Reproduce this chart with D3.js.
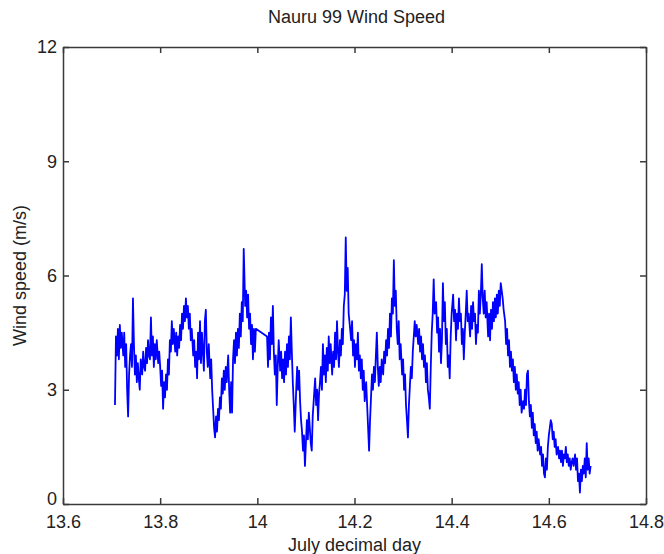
<!DOCTYPE html>
<html><head><meta charset="utf-8">
<script src="https://cdn.jsdelivr.net/npm/d3@7"></script>
<style>body{margin:0;background:#fff}svg{display:block}text{font-family:"Liberation Sans",Arial,sans-serif;fill:#222}</style>
</head><body><svg id="c" width="664" height="554"></svg>
<script>
const title = "Nauru 99 Wind Speed";
const xLabel = "July decimal day";
const yLabel = "Wind speed (m/s)";
const xTicks = [13.6, 13.8, 14, 14.2, 14.4, 14.6, 14.8];
const yTicks = [0, 3, 6, 9, 12];
const days = [
13.707,13.709,13.711,13.713,13.715,13.717,13.719,13.721,13.724,13.726,
13.728,13.730,13.732,13.734,13.736,13.738,13.740,13.742,13.744,13.746,
13.748,13.750,13.752,13.754,13.756,13.758,13.760,13.763,13.765,13.767,
13.769,13.771,13.773,13.775,13.777,13.779,13.781,13.783,13.785,13.787,
13.789,13.791,13.793,13.796,13.798,13.800,13.802,13.804,13.806,13.808,
13.810,13.812,13.814,13.816,13.818,13.820,13.822,13.824,13.826,13.828,
13.831,13.833,13.835,13.837,13.839,13.841,13.843,13.845,13.847,13.849,
13.851,13.853,13.855,13.857,13.859,13.861,13.863,13.865,13.868,13.870,
13.872,13.874,13.876,13.878,13.880,13.882,13.884,13.886,13.888,13.890,
13.892,13.894,13.896,13.898,13.900,13.903,13.905,13.907,13.909,13.911,
13.913,13.915,13.917,13.919,13.921,13.923,13.925,13.927,13.929,13.931,
13.933,13.935,13.937,13.940,13.942,13.944,13.946,13.948,13.950,13.952,
13.954,13.956,13.958,13.960,13.962,13.964,13.966,13.968,13.970,13.972,
13.975,13.977,13.979,13.981,13.983,13.985,13.987,13.989,13.991,13.993,
13.995,13.997,
14.020,14.022,14.024,14.026,14.028,14.030,14.032,14.034,
14.036,14.038,14.040,14.042,14.044,14.047,14.049,14.051,14.053,14.055,
14.057,14.059,14.061,14.063,14.065,14.067,14.069,14.071,14.073,14.075,
14.077,14.080,14.082,14.084,14.086,14.088,14.090,14.092,14.094,14.096,
14.098,14.100,14.102,14.104,14.106,14.108,14.110,14.112,14.114,14.116,
14.119,14.121,14.123,14.125,14.127,14.129,14.131,14.133,14.135,14.137,
14.139,14.141,14.143,14.145,14.147,14.149,14.151,14.154,14.156,14.158,
14.160,14.162,14.164,14.166,14.168,14.170,14.172,14.174,14.176,14.178,
14.180,14.182,14.184,14.186,14.188,14.191,14.193,14.195,14.197,14.199,
14.201,14.203,14.205,14.207,14.209,14.211,14.213,14.215,14.217,14.219,
14.221,14.224,14.226,14.228,14.230,14.232,14.234,14.236,14.238,14.240,
14.242,14.244,14.246,14.248,14.250,14.252,14.254,14.256,14.259,14.261,
14.263,14.265,14.267,14.269,14.271,14.273,14.275,14.277,14.279,14.281,
14.283,14.285,14.287,14.289,14.291,14.293,14.295,14.298,14.300,14.302,
14.304,14.306,14.308,14.310,14.312,14.314,14.316,14.318,14.320,14.322,
14.324,14.326,14.328,14.331,14.333,14.335,14.337,14.339,14.341,14.343,
14.345,14.347,14.349,14.351,14.353,14.355,14.357,14.359,14.361,14.363,
14.365,14.368,14.370,14.372,14.374,14.376,14.378,14.380,14.382,14.384,
14.386,14.388,14.390,14.392,14.394,14.396,14.398,14.400,14.403,14.405,
14.407,14.409,14.411,14.413,14.415,14.417,14.419,14.421,14.423,14.425,
14.427,14.429,14.431,14.433,14.435,14.438,14.440,14.442,14.444,14.446,
14.448,14.450,14.452,14.454,14.456,14.458,14.460,14.462,14.464,14.466,
14.468,14.470,14.472,14.475,14.477,14.479,14.481,14.483,14.485,14.487,
14.489,14.491,14.493,14.495,14.497,14.499,14.501,14.503,14.505,14.507,
14.510,14.512,14.514,14.516,14.518,14.520,14.522,14.524,14.526,14.528,
14.530,14.532,14.534,14.536,14.538,14.540,14.542,14.544,14.547,14.549,
14.551,14.553,14.555,14.557,14.559,14.561,14.563,14.565,14.567,14.569,
14.571,14.573,14.575,14.577,14.579,14.582,14.584,14.586,14.588,14.590,
14.592,14.594,14.596,14.598,14.600,14.602,14.604,14.606,14.608,14.610,
14.612,14.614,14.616,14.619,14.621,14.623,14.625,14.627,14.629,14.631,
14.633,14.635,14.637,14.639,14.641,14.643,14.645,14.647,14.649,14.651,
14.654,14.656,14.658,14.660,14.662,14.664,14.666,14.668,14.670,14.672,
14.674,14.676,14.678,14.680,14.682,14.684,14.686
];
const speeds = [
2.6,4.4,3.9,4.6,3.8,4.7,4.1,4.5,3.9,4.5,
3.6,4.2,3.0,2.3,3.4,3.9,4.2,3.6,5.4,4.2,
3.4,3.9,3.2,3.7,3.3,3.0,3.8,3.4,4.0,3.6,
3.5,4.1,3.7,4.3,3.9,3.8,4.9,3.9,4.4,3.6,
4.2,3.8,4.3,3.7,4.0,3.6,3.1,3.5,2.5,3.2,
2.8,3.4,3.0,3.8,3.4,4.3,4.0,4.8,4.2,4.6,
4.0,4.5,3.9,4.4,4.1,4.7,4.3,5.0,4.6,5.2,
4.8,5.4,4.9,5.2,4.6,5.0,4.3,4.6,3.9,4.3,
3.6,4.0,3.3,4.5,3.8,4.8,3.7,4.5,4.0,3.5,
4.8,5.1,4.0,3.6,4.2,3.3,3.8,3.0,2.5,2.0,
1.75,2.3,1.9,2.5,2.2,2.8,2.5,3.3,2.9,3.5,
3.0,3.6,3.2,3.9,3.0,2.4,3.2,2.4,3.8,4.3,
3.7,4.5,3.9,4.6,4.1,5.0,4.4,5.3,4.8,6.7,
5.2,5.6,4.9,5.5,4.6,5.0,4.2,4.7,3.8,4.6,
4.0,4.6,
4.4,3.6,4.5,3.8,4.9,4.2,5.2,4.0,
3.4,3.9,2.6,3.6,4.3,3.5,4.0,3.3,3.8,3.2,
4.0,3.4,4.2,3.6,4.4,3.8,4.9,4.0,3.2,2.6,
1.9,3.0,3.6,3.0,3.5,2.7,2.2,1.9,1.4,1.8,
1.0,1.6,2.2,1.7,2.4,2.0,1.6,1.4,2.3,2.7,
3.3,2.6,3.0,2.2,2.9,3.2,3.6,3.0,4.2,3.4,
3.9,3.2,4.1,3.5,4.4,3.7,4.2,3.4,4.0,3.6,
4.5,3.8,4.8,4.0,3.6,4.3,3.9,4.6,4.2,5.2,
5.5,7.0,5.6,6.2,5.0,4.6,4.3,4.8,3.9,4.3,
3.6,4.2,3.8,4.5,3.5,3.9,3.3,3.8,3.0,3.5,
2.7,3.2,2.6,2.0,1.4,2.2,2.8,3.4,3.0,3.6,
3.2,3.9,4.5,3.6,3.1,3.6,3.2,3.8,3.4,4.0,
3.7,4.3,3.9,4.6,4.1,5.0,4.4,5.4,5.0,6.4,
5.2,5.6,4.6,4.2,4.8,3.8,4.2,3.4,3.8,3.0,
3.4,2.6,2.2,1.75,2.6,3.1,3.6,3.3,4.0,4.4,
4.8,4.4,4.7,4.2,4.6,4.0,4.4,3.8,4.2,3.6,
3.9,3.2,3.7,3.0,2.8,2.5,3.6,4.5,5.0,5.9,
5.0,5.3,4.5,4.9,4.0,4.6,3.7,4.3,5.8,4.8,
5.3,4.2,4.6,3.6,3.9,3.3,4.4,5.0,5.5,4.8,
5.1,4.3,5.0,4.6,5.4,4.8,5.0,4.2,4.6,3.8,
4.5,5.0,5.6,4.8,5.0,4.4,5.2,4.6,5.3,4.8,
5.0,4.2,4.7,4.5,5.6,5.0,5.5,6.3,5.4,5.0,
5.6,4.9,5.3,4.4,5.0,4.3,5.1,4.6,5.3,4.8,
5.4,4.9,5.5,5.0,5.6,5.2,5.8,5.6,5.4,5.1,
4.8,4.2,4.6,3.9,4.3,3.6,4.0,3.5,3.8,3.2,
3.6,3.0,3.4,2.9,3.2,2.6,3.0,2.4,2.7,2.5,
3.0,2.6,3.4,3.5,2.7,2.3,2.6,2.0,2.4,1.8,
2.1,1.6,1.9,1.4,1.7,1.3,1.5,1.0,1.3,0.8,
0.7,1.2,0.9,1.5,1.8,2.0,2.2,2.1,1.7,1.9,
1.5,1.7,1.3,1.5,1.2,1.4,1.1,1.4,1.0,1.3,
1.2,1.5,1.1,1.3,1.0,1.2,0.9,1.1,1.2,1.0,
1.3,0.9,1.2,0.6,0.8,0.3,0.9,0.6,1.0,0.8,
1.2,0.7,1.6,0.9,1.2,0.8,1.0
];

const W = 664, H = 554;
const m = {left: 63, right: 18, top: 47, bottom: 50};
const svg = d3.select("#c");
const x = d3.scaleLinear().domain([13.6, 14.8]).range([m.left, W - m.right]);
const y = d3.scaleLinear().domain([0, 12]).range([H - m.bottom, m.top]);
const pts = days.map((d, i) => [d, speeds[i]]);

svg.append("path").datum(pts)
  .attr("fill", "none").attr("stroke", "#0000ff").attr("stroke-width", 1.8)
  .attr("stroke-linejoin", "round")
  .attr("d", d3.line().x(d => x(d[0])).y(d => y(d[1])));

const tk = 6, axCol = "#3a3a3a", fs = "18px";
function style(g){
  g.select(".domain").attr("stroke", axCol).attr("stroke-width", 1.5);
  g.selectAll(".tick line").attr("stroke", axCol).attr("stroke-width", 1.5);
  g.selectAll(".tick text").style("font-size", fs).attr("fill", "#2a2a2a")
    .style("font-family", "'Liberation Sans', Arial, sans-serif");
}
const fmt = d3.format("");
svg.append("g").attr("transform", `translate(0,${H - m.bottom})`)
  .call(d3.axisBottom(x).tickValues(xTicks).tickFormat(fmt).tickSizeInner(-tk).tickSizeOuter(0).tickPadding(11))
  .call(style);
svg.append("g").attr("transform", `translate(0,${m.top})`)
  .call(d3.axisTop(x).tickValues(xTicks).tickFormat("").tickSizeInner(-tk).tickSizeOuter(0))
  .call(style);
const yAx = svg.append("g").attr("transform", `translate(${m.left},0)`)
  .call(d3.axisLeft(y).tickValues(yTicks).tickFormat(fmt).tickSizeInner(-tk).tickSizeOuter(0).tickPadding(6))
  .call(style);
yAx.selectAll(".tick text").filter(d => d === 0).attr("dy", "0.05em");
svg.append("g").attr("transform", `translate(${W - m.right},0)`)
  .call(d3.axisRight(y).tickValues(yTicks).tickFormat("").tickSizeInner(-tk).tickSizeOuter(0))
  .call(style);

svg.append("text").attr("x", (m.left + W - m.right) / 2 + 2).attr("y", 23)
  .attr("text-anchor", "middle").style("font-size", "18px").attr("fill", "#2a2a2a").text(title);
svg.append("text").attr("x", (m.left + W - m.right) / 2).attr("y", 551)
  .attr("text-anchor", "middle").style("font-size", "18px").attr("fill", "#2a2a2a").text(xLabel);
svg.append("text").attr("transform", `translate(26,${(m.top + H - m.bottom) / 2}) rotate(-90)`)
  .attr("text-anchor", "middle").style("font-size", "18px").attr("fill", "#2a2a2a").text(yLabel);
</script></body></html>
